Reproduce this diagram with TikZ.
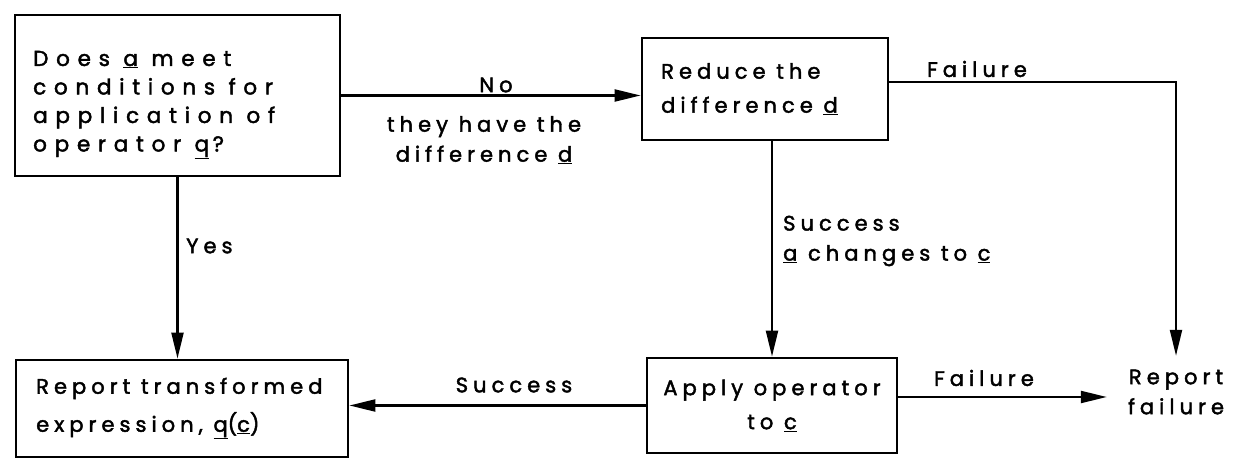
\documentclass[tikz,border=0pt]{standalone}
\usepackage{fontspec}
\setmainfont{Poppins}[LetterSpace=24, FakeBold=2]
\newfontfamily\wideAfont{Poppins}[LetterSpace=36, FakeBold=2]
\usetikzlibrary{arrows.meta}
\begin{document}
\begin{tikzpicture}[x=1pt,y=1pt,
  boxnode/.style={draw, line width=2.8pt, rectangle, inner sep=0pt},
  conn/.style={line width=2.2pt, -{Triangle[length=26pt,width=12pt]}},
  lab/.style={inner sep=0pt, font=\fontsize{21}{30}\selectfont},
  boxtext/.style={inner sep=0pt, anchor=west, align=left}]
\useasboundingbox (0,0) rectangle (1243,465);
% boxes
\node[boxnode, minimum width=325pt, minimum height=161pt] (A) at (177.5,369.5) {};
\node[boxtext, font=\wideAfont\fontsize{21.5}{28.5}\selectfont] (Atext) at (33,360)
  {Does \underline{a} meet\\conditions for\\application of\\operator \underline{q}\,?};
\node[boxnode, minimum width=246pt, minimum height=102pt] (B) at (765,376) {};
\node[boxtext, font=\fontsize{21}{34}\selectfont] (Btext) at (661,376)
  {Reduce the\\difference \underline{d}};
\node[boxnode, minimum width=332pt, minimum height=97pt] (C) at (182,56.5) {};
\node[boxtext, font=\fontsize{21}{38}\selectfont] (Ctext) at (36,56.5)
  {Report transformed\\expression, \underline{q}(\underline{c})};
\node[boxnode, minimum width=250pt, minimum height=95pt, align=center,
  font=\fontsize{21}{34}\selectfont] (D) at (772,59.5)
  {Apply operator\\to \underline{c}};
\node[lab, minimum width=138pt, minimum height=72pt, align=center] (rf) at (1176,73)
  {Report\\failure};
% connectors
\draw[conn] (A.east) -- (A.east -| B.west);
\draw[conn] ([yshift=7pt]B.east) -| (rf.north);
\draw[conn] (A.south) -- (A.south |- C.north);
\draw[conn] (D.north |- B.south) -- (D.north);
\draw[conn] (D.west) -- (D.west -| C.east);
\draw[conn] ([yshift=8.5pt]D.east) -- ([yshift=8.5pt]D.east -| rf.west);
% labels
\node[lab] (lno) at (496,380) {No};
\node[lab, align=center] (ldiff) at (484,325) {they have the\\difference \underline{d}};
\node[lab, anchor=west] (lyes) at (186,219) {Yes};
\node[lab] (lfail1) at (977,396) {Failure};
\node[lab, anchor=west, align=left] (lsucc1) at (783,224) {Success\\\underline{a} changes to \underline{c}};
\node[lab] (lsucc2) at (514,80) {Success};
\node[lab] (lfail2) at (984,87) {Failure};
\end{tikzpicture}
\end{document}
